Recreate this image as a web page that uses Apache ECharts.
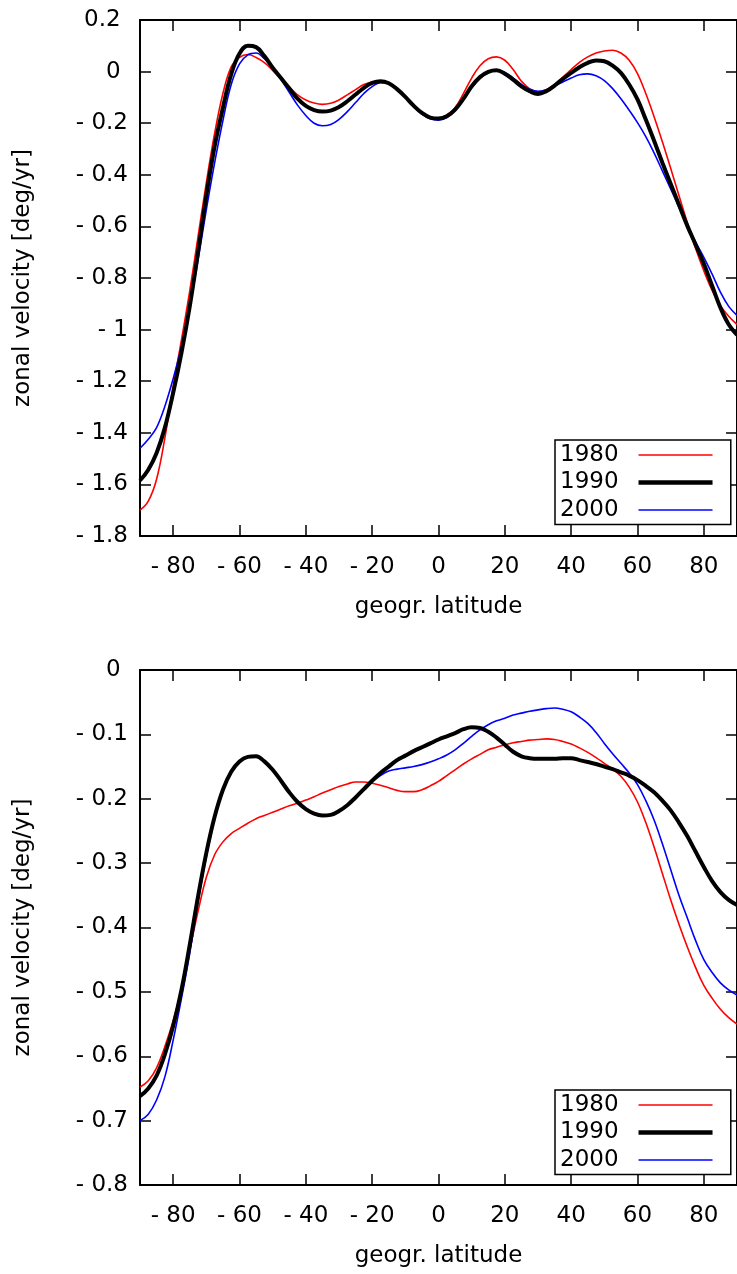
<!DOCTYPE html>
<html>
<head>
<meta charset="utf-8">
<script src="https://cdn.jsdelivr.net/npm/echarts@6/dist/echarts.min.js"></script>
<style>
  html, body { margin: 0; padding: 0; background: #fff; overflow: hidden; }
  #main { width: 737px; height: 1274px; }
</style>
</head>
<body>
<div id="main"></div>
<script>
// geographic latitude, every 2.5 degrees
const lat = [
  -90, -87.5, -85, -82.5, -80, -77.5, -75, -72.5, -70, -67.5,
  -65, -62.5, -60, -57.5, -55, -52.5, -50, -47.5, -45, -42.5,
  -40, -37.5, -35, -32.5, -30, -27.5, -25, -22.5, -20, -17.5,
  -15, -12.5, -10, -7.5, -5, -2.5, 0, 2.5, 5, 7.5,
  10, 12.5, 15, 17.5, 20, 22.5, 25, 27.5, 30, 32.5,
  35, 37.5, 40, 42.5, 45, 47.5, 50, 52.5, 55, 57.5,
  60, 62.5, 65, 67.5, 70, 72.5, 75, 77.5, 80, 82.5,
  85, 87.5, 90];

// upper panel
const top1980 = [
  -1.70, -1.665, -1.58, -1.42, -1.22, -1.04, -0.85, -0.64, -0.43, -0.24,
  -0.085, 0.018, 0.055, 0.066, 0.055, 0.035, 0.005, -0.028, -0.06, -0.09,
  -0.11, -0.122, -0.127, -0.123, -0.11, -0.09, -0.07, -0.05, -0.04, -0.037,
  -0.044, -0.068, -0.098, -0.132, -0.16, -0.176, -0.18, -0.168, -0.14, -0.085,
  -0.025, 0.023, 0.05, 0.057, 0.044, 0.008, -0.037, -0.067, -0.078, -0.07,
  -0.05, -0.021, 0.008, 0.036, 0.057, 0.072, 0.08, 0.083, 0.072, 0.044,
  -0.008, -0.085, -0.175, -0.272, -0.375, -0.48, -0.585, -0.685, -0.772, -0.848,
  -0.907, -0.948, -0.98];
const top1990 = [
  -1.585, -1.543, -1.478, -1.38, -1.245, -1.09, -0.91, -0.70, -0.48, -0.29,
  -0.14, -0.01, 0.07, 0.10, 0.095, 0.06, 0.015, -0.025, -0.065, -0.105,
  -0.133, -0.149, -0.155, -0.151, -0.137, -0.115, -0.089, -0.063, -0.044, -0.037,
  -0.045, -0.068, -0.098, -0.132, -0.16, -0.178, -0.182, -0.173, -0.147, -0.106,
  -0.057, -0.021, -0.001, 0.005, -0.008, -0.031, -0.057, -0.076, -0.087, -0.076,
  -0.054, -0.028, -0.005, 0.017, 0.034, 0.043, 0.04, 0.023, -0.005, -0.05,
  -0.108, -0.186, -0.268, -0.353, -0.435, -0.516, -0.597, -0.67, -0.745, -0.83,
  -0.915, -0.98, -1.02];
const top2000 = [
  -1.46, -1.425, -1.38, -1.297, -1.19, -1.065, -0.91, -0.73, -0.535, -0.354,
  -0.19, -0.05, 0.03, 0.065, 0.072, 0.05, 0.015, -0.03, -0.08, -0.13,
  -0.17, -0.2, -0.21, -0.205, -0.185, -0.155, -0.12, -0.085, -0.058, -0.043,
  -0.045, -0.068, -0.10, -0.135, -0.165, -0.183, -0.188, -0.178, -0.152, -0.11,
  -0.063, -0.027, -0.005, 0.007, -0.003, -0.025, -0.05, -0.068, -0.076, -0.07,
  -0.056, -0.04, -0.025, -0.012, -0.009, -0.016, -0.035, -0.066, -0.105, -0.15,
  -0.198, -0.252, -0.315, -0.385, -0.455, -0.525, -0.595, -0.66, -0.72, -0.785,
  -0.855, -0.91, -0.945];

// lower panel
const bot1980 = [
  -0.648, -0.638, -0.618, -0.585, -0.545, -0.495, -0.435, -0.375, -0.322, -0.287,
  -0.267, -0.254, -0.246, -0.238, -0.231, -0.226, -0.221, -0.216, -0.211, -0.207,
  -0.202, -0.197, -0.191, -0.186, -0.181, -0.177, -0.174, -0.174, -0.176, -0.179,
  -0.183, -0.187, -0.189, -0.189, -0.186, -0.18, -0.173, -0.164, -0.155, -0.146,
  -0.138, -0.131, -0.124, -0.12, -0.116, -0.113, -0.111, -0.109, -0.108, -0.107,
  -0.108, -0.111, -0.115, -0.121, -0.128, -0.136, -0.145, -0.154, -0.165, -0.182,
  -0.205, -0.237, -0.275, -0.316, -0.357, -0.395, -0.43, -0.462, -0.49, -0.51,
  -0.527, -0.54, -0.55];
const bot1990 = [
  -0.662, -0.65, -0.63, -0.597, -0.553, -0.497, -0.427, -0.352, -0.284, -0.228,
  -0.186, -0.158, -0.142, -0.135, -0.134, -0.142, -0.155, -0.172, -0.19, -0.205,
  -0.216, -0.223, -0.226, -0.225, -0.219, -0.21, -0.198, -0.185, -0.172, -0.16,
  -0.15, -0.14, -0.133, -0.126, -0.12, -0.114, -0.108, -0.103, -0.098, -0.092,
  -0.089, -0.09, -0.096, -0.105, -0.116, -0.127, -0.134, -0.137, -0.138, -0.138,
  -0.138, -0.137, -0.137, -0.14, -0.143, -0.146, -0.15, -0.154, -0.159, -0.164,
  -0.171, -0.18, -0.19, -0.203, -0.218, -0.237, -0.258, -0.282, -0.306, -0.328,
  -0.345, -0.357, -0.365];
const bot2000 = [
  -0.70, -0.69, -0.668, -0.632, -0.575, -0.51, -0.44, -0.36, -0.29, -0.231,
  -0.187, -0.158, -0.142, -0.135, -0.134, -0.142, -0.155, -0.172, -0.19, -0.205,
  -0.216, -0.223, -0.226, -0.225, -0.219, -0.21, -0.198, -0.186, -0.174, -0.164,
  -0.157, -0.154, -0.152, -0.15, -0.147, -0.143, -0.138, -0.132, -0.124, -0.114,
  -0.103, -0.093, -0.085, -0.079, -0.075, -0.07, -0.067, -0.064, -0.062, -0.06,
  -0.059, -0.061, -0.065, -0.073, -0.083, -0.097, -0.114, -0.13, -0.145, -0.16,
  -0.178, -0.203, -0.233, -0.27, -0.31, -0.35, -0.385, -0.42, -0.45, -0.47,
  -0.486, -0.497, -0.505];

const years = ["1980", "1990", "2000"];
const yearColors = ["#ff0000", "#000000", "#0000ff"];
const yearWidths = [1.6, 4, 1.6];
const xTicks = [-80, -60, -40, -20, 0, 20, 40, 60, 80];
const yTicksTop = [-1.8, -1.6, -1.4, -1.2, -1, -0.8, -0.6, -0.4, -0.2, 0, 0.2];
const yTicksBottom = [-0.8, -0.7, -0.6, -0.5, -0.4, -0.3, -0.2, -0.1, 0];

const font = "DejaVu Sans";
const fs = 23;

function fmt(v) {
  let a = Math.round(Math.abs(v) * 10) / 10;
  if (v < -1e-9) return "- " + a;
  return a + "";
}

function pairs(vals) {
  return lat.map((x, i) => [x, vals[i]]);
}

function xAxisOf(grid, pos) {
  let main = pos === "bottom";
  return {
    type: "value", gridIndex: grid, position: pos, min: -90, max: 90,
    name: main ? "geogr. latitude" : "", nameLocation: "middle", nameGap: 60,
    nameTextStyle: { fontFamily: font, fontSize: fs, color: "#000" },
    axisLine: { show: true, onZero: false, lineStyle: { color: "#000", width: 2 } },
    axisTick: { show: true, inside: true, length: 11, customValues: xTicks, lineStyle: { color: "#000", width: 1.5 } },
    axisLabel: { show: main, customValues: xTicks, margin: 20, fontFamily: font, fontSize: fs, color: "#000", formatter: fmt },
    splitLine: { show: false }
  };
}

function yAxisOf(grid, pos, mn, mx, ticks) {
  let main = pos === "left";
  return {
    type: "value", gridIndex: grid, position: pos, min: mn, max: mx,
    name: main ? "zonal velocity [deg/yr]" : "", nameLocation: "middle", nameGap: 105,
    nameTextStyle: { fontFamily: font, fontSize: fs, color: "#000" },
    axisLine: { show: true, onZero: false, lineStyle: { color: "#000", width: 2 } },
    axisTick: { show: true, inside: true, length: 11, customValues: ticks, lineStyle: { color: "#000", width: 1.5 } },
    axisLabel: {
      show: main, customValues: ticks, margin: 12, fontFamily: font, fontSize: fs, color: "#000",
      formatter: v => (v < -1e-9 ? fmt(v) : fmt(v) + " ")
    },
    splitLine: { show: false }
  };
}

function line(k, xi, vals) {
  return {
    name: years[k], type: "line", xAxisIndex: xi, yAxisIndex: xi,
    data: pairs(vals), smooth: 0.4, symbol: "none",
    lineStyle: { color: yearColors[k], width: yearWidths[k] }, itemStyle: { color: yearColors[k] },
    emphasis: { disabled: true }
  };
}

function legendAt(top) {
  return {
    data: years.map((y, k) => ({
      name: y,
      itemStyle: { opacity: 0 },
      lineStyle: { color: yearColors[k], width: k === 1 ? 4.5 : 1.6 }
    })),
    left: 555, top: top, orient: "vertical", align: "right",
    itemWidth: 74, itemHeight: 20, itemGap: 4.5, padding: [3.5, 16, 3, 5],
    borderColor: "#000", borderWidth: 1.5, backgroundColor: "#fff",
    selectedMode: false,
    textStyle: { fontFamily: font, fontSize: fs, lineHeight: 23, color: "#000", padding: [0, 15, 0, 0] }
  };
}

var myChart = echarts.init(document.getElementById("main"));
myChart.setOption({
  animation: false,
  backgroundColor: "#fff",
  grid: [
    { left: 140, top: 20, width: 606, height: 516 },
    { left: 140, top: 670, width: 606, height: 515 }
  ],
  xAxis: [xAxisOf(0, "bottom"), xAxisOf(0, "top"), xAxisOf(1, "bottom"), xAxisOf(1, "top")],
  yAxis: [
    yAxisOf(0, "left", -1.8, 0.2, yTicksTop), yAxisOf(0, "right", -1.8, 0.2, yTicksTop),
    yAxisOf(1, "left", -0.8, 0, yTicksBottom), yAxisOf(1, "right", -0.8, 0, yTicksBottom)
  ],
  legend: [legendAt(440), legendAt(1090)],
  // black drawn last so it sits on top, as in the original
  series: [
    line(0, 0, top1980),
    line(2, 0, top2000),
    line(1, 0, top1990),
    line(0, 2, bot1980),
    line(2, 2, bot2000),
    line(1, 2, bot1990)
  ]
});
</script>
</body>
</html>
